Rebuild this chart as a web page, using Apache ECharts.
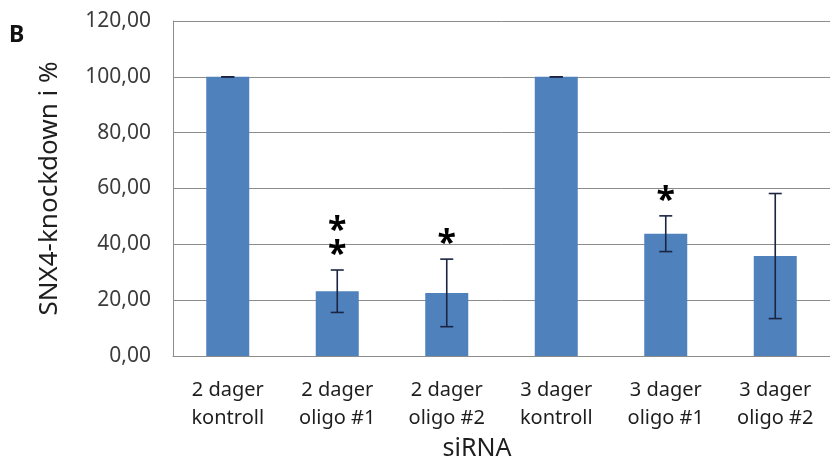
<!DOCTYPE html>
<html>
<head>
<meta charset="utf-8">
<script src="https://cdn.jsdelivr.net/npm/echarts@6/dist/echarts.min.js"></script>
<style>
  html, body { margin: 0; padding: 0; background: #fff; }
  #chart { width: 830px; height: 464px; }
</style>
</head>
<body>
<div id="chart"></div>
<script>
// SNX4 knockdown after siRNA treatment (mean ± error, % of control)
const categories = [
  '2 dager\nkontroll', '2 dager\noligo #1', '2 dager\noligo #2',
  '3 dager\nkontroll', '3 dager\noligo #1', '3 dager\noligo #2'
];
const means = [100, 23.2, 22.6, 100, 43.8, 35.8];
const errors = [0, 7.6, 12.1, 0, 6.4, 22.4];
const significance = ['', '**', '*', '', '*', ''];
const yTicks = [0, 20, 40, 60, 80, 100, 120];

const FONT = '"Noto Sans", "Open Sans", sans-serif';
const chart = echarts.init(document.getElementById('chart'));

const errorData = means.map((m, i) => [i, m, errors[i], significance[i]]);

chart.setOption({
  animation: false,
  backgroundColor: '#ffffff',
  grid: { left: 173, top: 21, width: 662, height: 335 },
  xAxis: {
    type: 'category',
    data: categories,
    axisLine: { show: true, lineStyle: { color: '#8c8c8c', width: 1 } },
    axisTick: { show: false },
    axisLabel: {
      color: '#1e1e1e', fontFamily: FONT, fontSize: 20, lineHeight: 28,
      margin: 20, interval: 0
    }
  },
  yAxis: {
    type: 'value',
    min: yTicks[0],
    max: yTicks[yTicks.length - 1],
    interval: 20,
    name: 'SNX4-knockdown i %',
    nameLocation: 'middle',
    nameGap: 110,
    nameTextStyle: { color: '#1e1e1e', fontFamily: FONT, fontSize: 26 },
    axisLine: { show: true, lineStyle: { color: '#8c8c8c', width: 1 } },
    axisTick: { show: false },
    axisLabel: {
      color: '#3c3c3c', fontFamily: FONT, fontSize: 21, margin: 22,
      formatter: v => v.toFixed(2).replace('.', ',')
    },
    splitLine: { show: true, lineStyle: { color: '#8c8c8c', width: 1 } }
  },
  graphic: [
    { type: 'text', x: 9, y: 24,
      style: { text: 'B', fill: '#111', font: 'bold 23px ' + FONT } },
    { type: 'text', x: 477, y: 449,
      style: { text: 'siRNA', fill: '#1e1e1e', font: '25px ' + FONT,
               textAlign: 'center', textVerticalAlign: 'middle' } }
  ],
  series: [
    {
      type: 'bar',
      data: means,
      barWidth: 43,
      itemStyle: { color: '#4f81bd' },
      z: 2
    },
    {
      type: 'custom',
      data: errorData,
      z: 5,
      renderItem: function (params, api) {
        const idx = api.value(0);
        const m = api.value(1);
        const e = api.value(2);
        const sig = errorData[params.dataIndex][3];
        const top = api.coord([idx, m + e]);
        const bot = api.coord([idx, m - e]);
        const half = 6.5;
        const stroke = { stroke: '#1b2440', lineWidth: 1.6 };
        const children = [
          { type: 'line', shape: { x1: top[0], y1: top[1], x2: bot[0], y2: bot[1] }, style: stroke },
          { type: 'line', shape: { x1: top[0] - half, y1: top[1], x2: top[0] + half, y2: top[1] }, style: stroke },
          { type: 'line', shape: { x1: bot[0] - half, y1: bot[1], x2: bot[0] + half, y2: bot[1] }, style: stroke }
        ];
        for (let k = 0; k < sig.length; k++) {
          children.push({
            type: 'text',
            style: {
              text: '*', x: top[0], y: top[1] - 15 - 23.5 * k,
              fill: '#000', font: 'bold 34px ' + FONT,
              textAlign: 'center', textVerticalAlign: 'middle'
            }
          });
        }
        return { type: 'group', children: children };
      }
    }
  ]
});
</script>
</body>
</html>
